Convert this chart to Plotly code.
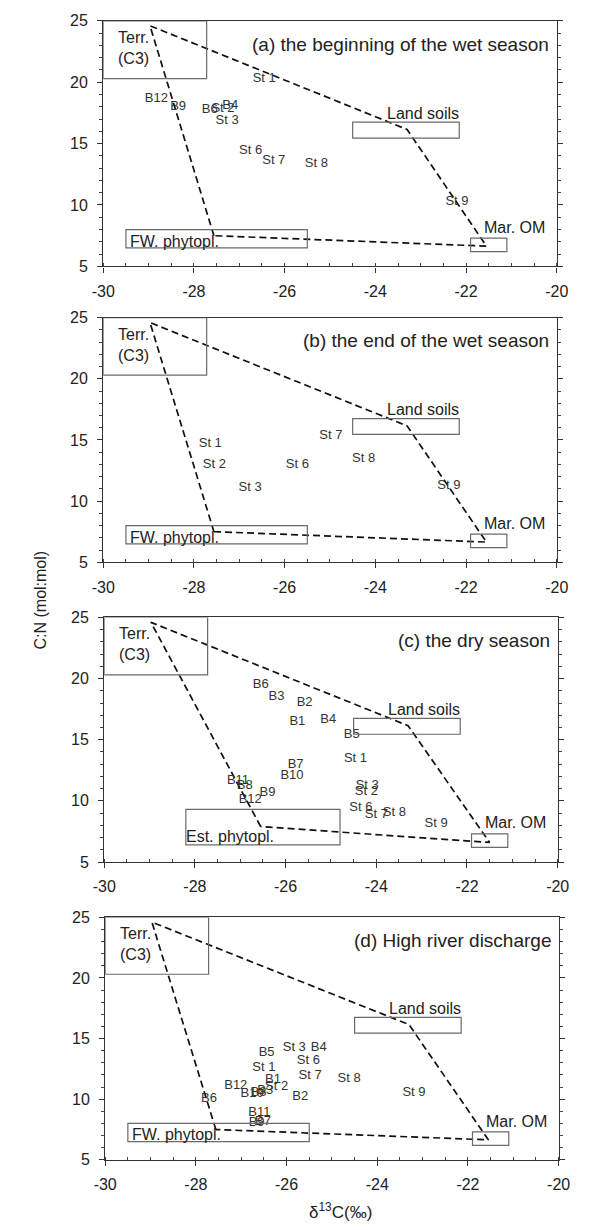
import plotly.graph_objects as go

# ---------------- data ----------------
panel_titles = ["(a) the beginning of the wet season", "(b) the end of the wet season",
                "(c) the dry season", "(d) High river discharge"]

labels_a = ["St 1", "B12", "B9", "B6", "St 2", "B4", "St 3", "St 6", "St 7", "St 8", "St 9"]
d13c_a = [-26.45, -28.83, -28.35, -27.65, -27.36, -27.2, -27.27, -26.75, -26.24, -25.3, -22.2]
cn_a = [20.27, 18.65, 17.98, 17.77, 17.85, 18.10, 16.90, 14.44, 13.60, 13.36, 10.24]

labels_b = ["St 1", "St 2", "St 3", "St 6", "St 7", "St 8", "St 9"]
d13c_b = [-27.64, -27.55, -26.76, -25.72, -24.98, -24.26, -22.38]
cn_b = [14.70, 12.96, 11.07, 12.96, 15.38, 13.50, 11.29]

labels_c = ["B6", "B3", "B2", "B1", "B4", "B5", "St 1", "B7", "B10", "B11", "B8", "B12", "B9",
            "St 3", "St 2", "St 6", "St 7", "St 8", "St 9"]
d13c_c = [-26.55, -26.2, -25.58, -25.74, -25.06, -24.54, -24.46, -25.78, -25.86, -27.05, -26.9,
          -26.78, -26.4, -24.2, -24.22, -24.34, -24.0, -23.6, -22.68]
cn_c = [19.46, 18.52, 18.04, 16.50, 16.64, 15.43, 13.47, 12.93, 12.07, 11.66, 11.25,
        10.08, 10.70, 11.25, 10.75, 9.46, 8.85, 9.05, 8.09]

labels_d = ["B5", "St 3", "B4", "St 6", "St 1", "St 7", "St 8", "B1", "B12", "St 2", "B10", "B8",
            "B3", "B6", "B2", "St 9", "B11", "B9", "B7"]
d13c_d = [-26.44, -25.83, -25.29, -25.52, -26.5, -25.48, -24.62, -26.3, -27.12, -26.22, -26.76,
          -26.62, -26.47, -27.71, -25.7, -23.19, -26.6, -26.66, -26.52]
cn_d = [13.84, 14.24, 14.24, 13.16, 12.62, 11.97, 11.72, 11.60, 11.12, 11.00, 10.45, 10.55,
        10.70, 10.07, 10.18, 10.53, 8.90, 8.10, 8.15]

# end-member ranges (d13C range, C:N range)
terr_x = [-30.0, -27.72]; terr_y = [20.3, 25.0]
soil_x = [-24.5, -22.15]; soil_y = [15.45, 16.75]
fw_x = [-29.5, -25.5]; fw_y = [6.5, 8.0]
mar_x = [-21.9, -21.1]; mar_y = [6.2, 7.3]
est_x = [-28.2, -24.8]; est_y = [6.4, 9.3]

# mixing polygon vertices: phytoplankton -> Terr -> Land soils -> Mar. OM -> phytoplankton
mix_x = [-27.56, -28.97, -23.3, -21.55, -27.56]
mix_y = [7.5, 24.6, 16.15, 6.65, 7.5]
mix_c_x = [-26.55, -28.97, -23.3, -21.5, -26.55]
mix_c_y = [7.9, 24.6, 16.15, 6.6, 7.9]

x_ticks = [-30, -28, -26, -24, -22, -20]
y_ticks = [5, 10, 15, 20, 25]

# ---------------- figure ----------------
W, H = 611, 1230
FONT = "Liberation Sans, Arial, sans-serif"
TXT = "#222222"
panels_px = [(95, 567, 13, 262), (95, 567, 314, 562), (96, 568, 618, 866), (97, 569, 922, 1168)]

fig = go.Figure()
layout = dict(width=W, height=H, margin=dict(l=0, r=0, t=0, b=0),
              paper_bgcolor="white", plot_bgcolor="white", showlegend=False,
              font=dict(family=FONT, color=TXT))
shapes, annotations = [], []

data_sets = [(labels_a, d13c_a, cn_a), (labels_b, d13c_b, cn_b),
             (labels_c, d13c_c, cn_c), (labels_d, d13c_d, cn_d)]

for i, px in enumerate(panels_px):
    l, r, t, b = px
    n = "" if i == 0 else str(i + 1)
    xa, ya = "x" + n, "y" + n
    layout["xaxis" + n] = dict(domain=[l / W, r / W], range=[-30, -20], anchor=ya,
                               tickvals=x_ticks, ticktext=[str(v) for v in x_ticks],
                               ticks="outside", ticklen=5, tickcolor="#333", tickwidth=1,
                               minor=dict(dtick=0.5, tick0=-30, ticks="inside", ticklen=3,
                                          tickcolor="#444", showgrid=False),
                               showline=True, linecolor="#333", linewidth=1.3, mirror=True,
                               showgrid=False, zeroline=False,
                               tickfont=dict(size=16, color=TXT), ticklabelstandoff=5)
    layout["yaxis" + n] = dict(domain=[1 - b / H, 1 - t / H], range=[5, 25], anchor=xa,
                               tickvals=y_ticks, ticktext=[str(v) for v in y_ticks],
                               ticks="outside", ticklen=5, tickcolor="#333", tickwidth=1,
                               minor=dict(dtick=1, tick0=5, ticks="outside", ticklen=3,
                                          tickcolor="#444", showgrid=False),
                               showline=True, linecolor="#333", linewidth=1.3, mirror="allticks",
                               showgrid=False, zeroline=False,
                               tickfont=dict(size=16, color=TXT), ticklabelstandoff=6)

    phx, phy = (est_x, est_y) if i == 2 else (fw_x, fw_y)
    for bx, by in [(terr_x, terr_y), (soil_x, soil_y), (phx, phy), (mar_x, mar_y)]:
        shapes.append(dict(type="rect", xref=xa, yref=ya, x0=bx[0], x1=bx[1], y0=by[0], y1=by[1],
                           line=dict(color="#6a6a6a", width=1.2), fillcolor="rgba(0,0,0,0)"))

    mx, my = (mix_c_x, mix_c_y) if i == 2 else (mix_x, mix_y)
    fig.add_trace(go.Scatter(x=mx, y=my, mode="lines", xaxis=xa, yaxis=ya,
                             line=dict(color="#111", width=1.7, dash="7px,4px"),
                             hoverinfo="skip"))

    labs, xs, ys = data_sets[i]
    fig.add_trace(go.Scatter(x=xs, y=ys, text=labs, mode="text", xaxis=xa, yaxis=ya,
                             textposition="middle center", cliponaxis=False,
                             textfont=dict(size=13, color="#333", family=FONT)))

    annotations.append(dict(x=-20.12, y=23.1, xref=xa, yref=ya, text=panel_titles[i],
                            showarrow=False, xanchor="right", yanchor="middle",
                            font=dict(size=19, color=TXT)))
    annotations.append(dict(x=-29.72, y=22.8, xref=xa, yref=ya, text="Terr.<br>(C3)",
                            showarrow=False, xanchor="left", yanchor="middle", align="left",
                            font=dict(size=16, color=TXT)))
    annotations.append(dict(x=-22.95, y=17.45, xref=xa, yref=ya, text="Land soils",
                            showarrow=False, xanchor="center", yanchor="middle",
                            font=dict(size=16, color=TXT)))
    annotations.append(dict(x=-21.65, y=8.2, xref=xa, yref=ya, text="Mar. OM",
                            showarrow=False, xanchor="left", yanchor="middle",
                            font=dict(size=16, color=TXT)))
    if i == 2:
        annotations.append(dict(x=-28.24, y=7.1, xref=xa, yref=ya, text="Est. phytopl.",
                                showarrow=False, xanchor="left", yanchor="middle",
                                font=dict(size=16, color=TXT)))
    else:
        annotations.append(dict(x=-29.45, y=7.05, xref=xa, yref=ya, text="FW. phytopl.",
                                showarrow=False, xanchor="left", yanchor="middle",
                                font=dict(size=16, color=TXT)))

annotations.append(dict(x=342 / W, y=1 - 1220 / H, xref="paper", yref="paper",
                        text="\u03b4<sup>13</sup>C(\u2030)", showarrow=False,
                        xanchor="center", yanchor="middle", font=dict(size=17, color=TXT)))
annotations.append(dict(x=30 / W, y=1 - 600 / H, xref="paper", yref="paper",
                        text="C:N (mol:mol)", showarrow=False, textangle=-90,
                        xanchor="center", yanchor="middle", font=dict(size=16, color=TXT)))

layout["shapes"] = shapes
layout["annotations"] = annotations
fig.update_layout(**layout)
fig.write_html("out.html")
